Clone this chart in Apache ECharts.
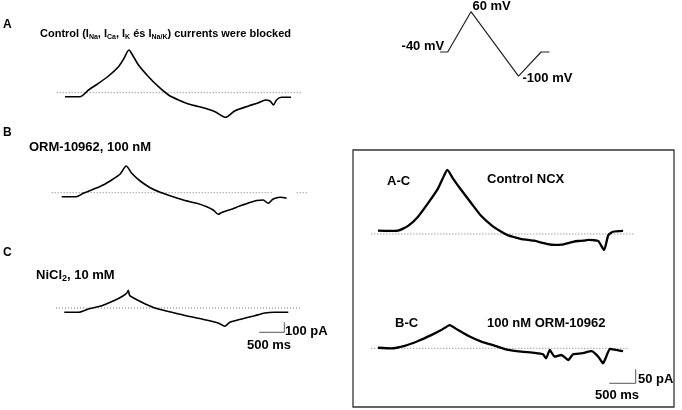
<!DOCTYPE html>
<html><head><meta charset="utf-8">
<script src="https://cdn.jsdelivr.net/npm/echarts@6/dist/echarts.min.js"></script>
<style>html,body{margin:0;padding:0;background:#fff}#c{width:682px;height:410px}</style>
</head><body><div id="c"></div>
<script>
// ---- data (time in ms, current in pA, voltage in mV) ----
const tA = [0,300,470,670,870,1070,1170,1280,1350,1470,1670,1870,2070,2270,2470,2730,3000,3210,3400,3670,3870,4010,4100,4170,4230,4330,4520];
const iA = [-40,-40,27,94,167,260,334,427,377,277,160,60,-23,-73,-113,-146,-190,-246,-180,-133,-100,-73,-83,-123,-73,-46,-46];

const tB = [0,290,430,630,830,1030,1170,1290,1400,1570,1770,1970,2170,2430,2700,2900,3030,3130,3200,3300,3400,3500,3600,3700,3800,3900,4030,4130,4230,4370,4500];
const iB = [-40,-40,-6,34,77,137,187,267,194,117,50,4,-30,-73,-106,-140,-173,-216,-198,-180,-165,-145,-125,-110,-92,-78,-73,-106,-63,-46,-56];

const tC = [0,280,480,750,1010,1180,1250,1280,1310,1550,1810,2150,2480,2810,3080,3210,3310,3550,3810,4010,4210,4480];
const iC = [-43,-43,-10,23,77,123,150,177,123,57,0,-43,-83,-117,-150,-183,-143,-110,-77,-50,-43,-43];

const tAC = [0,190,380,570,760,950,1140,1230,1315,1420,1580,1770,1960,2150,2340,2470,2600,2720,2850,2970,3100,3220,3350,3480,3600,3700,3800,3900,3990,4080,4180,4290,4370,4460,4650];
const iAC = [12,11,12,29,62,110,163,199,229,199,157,110,64,32,8,-5,-12,-18,-21,-24,-31,-36,-39,-38,-33,-28,-25,-24,-21,-22,-25,-57,-4,8,11];

const tBC = [0,250,510,760,1010,1200,1360,1520,1710,1960,2220,2470,2720,2970,3130,3190,3260,3350,3480,3610,3700,3860,4050,4180,4270,4330,4400,4520,4650];
const iBC = [2,0,9,26,47,65,83,65,45,24,9,-6,-12,-16,-21,-36,-6,-30,-24,-42,-21,-18,-10,-30,-54,-30,-2,-6,-10];

const tV = [0,330,1330,3370,4340,4700];
const vV = [-40,-40,60,-100,-40,-40];

// zero-current reference spans (ms)
const baseA = [-166, 4734];
const baseB = [-200, 4200];
const baseB2 = [4700, 4932];
const baseC = [-166, 4734];
const baseAC = [-127, 4872];
const baseBC = [-127, 4745];

// scale bars: [ms, pA] corners
const scaleLeft = [[3900,-243],[4400,-243],[4400,-143]];   // 500 ms, 100 pA
const scaleRight = [[4390,-125],[4890,-125],[4890,-75]];   // 500 ms, 50 pA

// ---- build ----
const pairs = (t, v) => t.map((x, i) => [x, v[i]]);
const FONT = '"Liberation Sans", Arial, sans-serif';

const grids = [
  {left:50,    top:42.7,  width:265,    height:80},
  {left:46.7,  top:152.7, width:265,    height:70},
  {left:49.3,  top:278,   width:265,    height:60},
  {left:362.2, top:150,   width:289.85, height:112},
  {left:362.2, top:306.3, width:289.85, height:84},
  {left:440,   top:7.67,  width:109.5,  height:72.5}
];
const xr = [[-300,5000],[-300,5000],[-300,5000],[-300,5200],[-300,5200],[0,4700]];
const yr = [[-300,500],[-300,400],[-300,300],[-100,300],[-150,150],[-110,70]];

const series = [];
function trace(gi, data, w, sm) {
  series.push({type:'line', xAxisIndex:gi, yAxisIndex:gi, data, symbol:'none', silent:true, smooth:sm,
    lineStyle:{color:'#000', width:w}, z:3});
}
function base(gi, span) {
  series.push({type:'line', xAxisIndex:gi, yAxisIndex:gi, data:[[span[0],0],[span[1],0]], symbol:'none', silent:true,
    lineStyle:{color:'#777', width:1, type:[1,2]}, z:2});
}
function bar(gi, data) {
  series.push({type:'line', xAxisIndex:gi, yAxisIndex:gi, data, symbol:'none', silent:true,
    lineStyle:{color:'#555', width:1}, z:2});
}
base(0, baseA); trace(0, pairs(tA, iA), 1.6, 0.25);
base(1, baseB); base(1, baseB2); trace(1, pairs(tB, iB), 1.6, 0.25);
base(2, baseC); trace(2, pairs(tC, iC), 1.6, 0.2); bar(2, scaleLeft);
base(3, baseAC); trace(3, pairs(tAC, iAC), 2.3, 0.2);
base(4, baseBC); trace(4, pairs(tBC, iBC), 2.3, 0.15); bar(4, scaleRight);
series.push({type:'line', xAxisIndex:5, yAxisIndex:5, symbol:'none', silent:true,
  lineStyle:{color:'#222', width:1.2}, data: pairs(tV, vV)});

function txt(x, y, text, size, align, rich) {
  const s = {x, y, text, fontSize:size, fontWeight:'bold', fontFamily:FONT, fill:'#000',
    textAlign: align || 'left', textVerticalAlign:'middle'};
  if (rich) s.rich = rich;
  return {type:'text', silent:true, style:s};
}
function richSet(size, subSize, lh) {
  return {
    n:{fontSize:size, fontWeight:'bold', fontFamily:FONT, lineHeight:lh},
    s:{fontSize:subSize, fontWeight:'bold', fontFamily:FONT, verticalAlign:'bottom', lineHeight:subSize}
  };
}

const option = {
  animation:false,
  backgroundColor:'#fff',
  grid: grids,
  xAxis: xr.map((r, i) => ({type:'value', gridIndex:i, min:r[0], max:r[1], show:false})),
  yAxis: yr.map((r, i) => ({type:'value', gridIndex:i, min:r[0], max:r[1], show:false})),
  series
};
const chart = echarts.init(document.getElementById('c'), null, {renderer:'canvas'});
chart.setOption(option);

const p = i => chart.convertToPixel({xAxisIndex:5, yAxisIndex:5}, [tV[i], vV[i]]);
const p1 = p(1), p2 = p(2), p3 = p(3);

chart.setOption({graphic: [
  {type:'rect', silent:true, shape:{x:353, y:150, width:321, height:257}, style:{fill:'none', stroke:'#333', lineWidth:1.3}},
  txt(3, 25, 'A', 12),
  txt(40, 33.5, '{n|Control (I}{s|Na}{n|, I}{s|Ca}{n|, I}{s|K}{n| és I}{s|Na/K}{n|) currents were blocked}', 11, 'left', richSet(11, 7, 15)),
  txt(3, 133, 'B', 12),
  txt(29, 147, 'ORM-10962, 100 nM', 13),
  txt(3, 253, 'C', 12),
  txt(36, 275, '{n|NiCl}{s|2}{n|, 10 mM}', 13, 'left', richSet(13, 9, 17)),
  txt(285, 331, '100 pA', 13),
  txt(247, 345, '500 ms', 13),
  txt(387, 181, 'A-C', 13),
  txt(487, 179, 'Control NCX', 13),
  txt(395, 323, 'B-C', 13),
  txt(487, 323, '100 nM ORM-10962', 13),
  txt(638, 379, '50 pA', 13),
  txt(595, 395, '500 ms', 13),
  txt(p1[0] - 3.5, p1[1] - 6, vV[1] + ' mV', 13, 'right'),
  txt(p2[0] + 1.5, p2[1] - 5.5, vV[2] + ' mV', 13, 'left'),
  txt(p3[0] + 4, p3[1] + 2, vV[3] + ' mV', 13, 'left')
]});
</script></body></html>
